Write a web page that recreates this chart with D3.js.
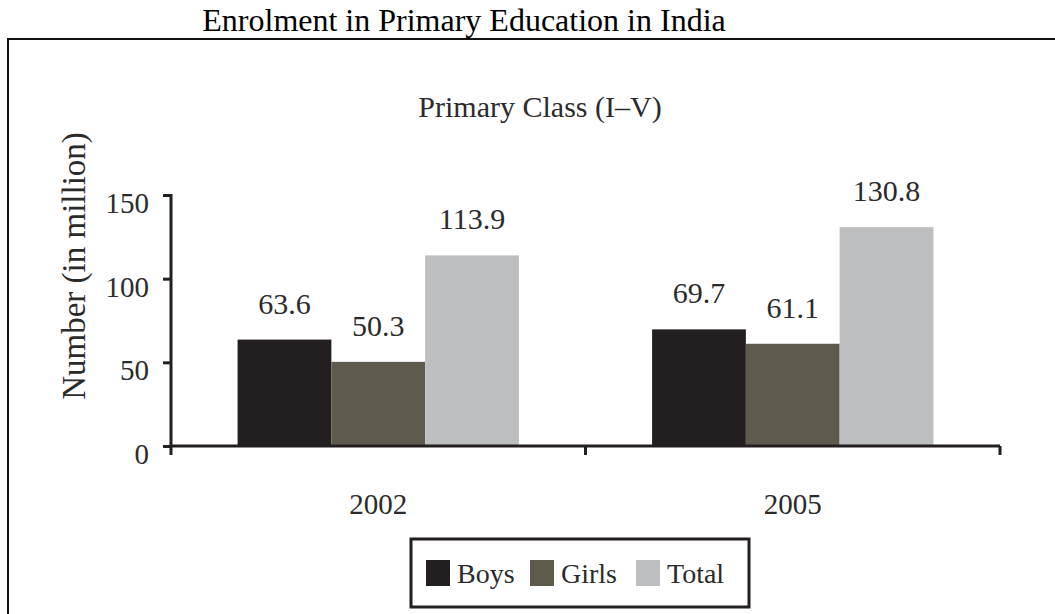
<!DOCTYPE html>
<html>
<head>
<meta charset="utf-8">
<script src="https://cdn.jsdelivr.net/npm/d3@7"></script>
<style>
  body { margin: 0; background: #fff; }
  svg text { font-family: "Liberation Serif", "Times New Roman", serif; }
</style>
</head>
<body>
<div id="chart"></div>
<script>
const width = 1055;
const height = 614;
const serif = "'Liberation Serif', 'Times New Roman', serif";

// data
const years = ["2002", "2005"];
const series = ["Boys", "Girls", "Total"];
const boys = [63.6, 69.7];
const girls = [50.3, 61.1];
const total = [113.9, 130.8];
const yTicks = [0, 50, 100, 150];
const colors = ["#231f20", "#5e5b4c", "#bcbec0"];

const rows = years.map((yr, i) => ({ year: yr, values: [boys[i], girls[i], total[i]] }));

const svg = d3.select("#chart").append("svg")
    .attr("width", width).attr("height", height);

// outer frame (left + top edges only visible)
svg.append("path")
    .attr("d", "M8,614 V39 H1055")
    .attr("fill", "none").attr("stroke", "#111").attr("stroke-width", 2);

svg.append("text")
    .attr("x", 464).attr("y", 31)
    .attr("text-anchor", "middle")
    .style("font-family", serif)
    .attr("font-size", 32).attr("fill", "#000")
    .text("Enrolment in Primary Education in India");

svg.append("text")
    .attr("x", 540).attr("y", 117)
    .attr("text-anchor", "middle")
    .style("font-family", serif)
    .attr("font-size", 30).attr("fill", "#2b2b2b")
    .text("Primary Class (I\u2013V)");

const plotLeft = 171, plotRight = 1000, plotTop = 195, plotBottom = 446;

const x = d3.scaleBand().domain(years).range([plotLeft, plotRight]).padding(0);
const x1 = d3.scaleBand().domain(series).range([0, x.bandwidth()])
    .paddingInner(0).paddingOuter(0.71);
const y = d3.scaleLinear().domain([0, 150]).range([plotBottom, plotTop]);

// bars
const groups = svg.append("g").selectAll("g")
    .data(rows).join("g")
    .attr("transform", d => `translate(${x(d.year)},0)`);

groups.selectAll("rect")
    .data(d => d.values.map((v, i) => ({ key: series[i], value: v, i })))
    .join("rect")
    .attr("x", d => x1(d.key))
    .attr("width", x1.bandwidth())
    .attr("y", d => y(d.value))
    .attr("height", d => y(0) - y(d.value))
    .attr("fill", d => colors[d.i]);

groups.selectAll("text.val")
    .data(d => d.values.map((v, i) => ({ key: series[i], value: v })))
    .join("text")
    .attr("class", "val")
    .attr("x", d => x1(d.key) + x1.bandwidth() / 2)
    .attr("y", d => y(d.value) - 26)
    .attr("text-anchor", "middle")
    .style("font-family", serif)
    .attr("font-size", 30).attr("fill", "#2b2b2b")
    .text(d => d.value.toFixed(1));

// y axis
const yAxis = svg.append("g")
    .attr("transform", `translate(${plotLeft},0)`)
    .call(d3.axisLeft(y).tickValues(yTicks).tickSize(8).tickPadding(14).tickFormat(d3.format("d")));
yAxis.select(".domain").remove();
yAxis.selectAll(".tick line").attr("stroke", "#231f20").attr("stroke-width", 3);
yAxis.selectAll(".tick text")
    .style("font-family", serif)
    .attr("font-size", 29).attr("fill", "#2b2b2b")
    .attr("dy", "0.6em");

svg.append("line")
    .attr("x1", plotLeft).attr("x2", plotLeft)
    .attr("y1", plotTop - 1).attr("y2", plotBottom + 9)
    .attr("stroke", "#231f20").attr("stroke-width", 3);

// x axis
svg.append("line")
    .attr("x1", plotLeft).attr("x2", plotRight)
    .attr("y1", plotBottom).attr("y2", plotBottom)
    .attr("stroke", "#231f20").attr("stroke-width", 3);

svg.append("g").selectAll("line")
    .data(years)
    .join("line")
    .attr("x1", d => x(d) + x.bandwidth()).attr("x2", d => x(d) + x.bandwidth())
    .attr("y1", plotBottom).attr("y2", plotBottom + 9)
    .attr("stroke", "#231f20").attr("stroke-width", 3);

svg.append("g").selectAll("text")
    .data(years)
    .join("text")
    .attr("x", d => x(d) + x.bandwidth() / 2)
    .attr("y", 514)
    .attr("text-anchor", "middle")
    .style("font-family", serif)
    .attr("font-size", 29).attr("fill", "#2b2b2b")
    .text(d => d);

// y label
svg.append("text")
    .attr("transform", "translate(85,266) rotate(-90)")
    .attr("text-anchor", "middle")
    .style("font-family", serif)
    .attr("font-size", 33).attr("fill", "#2b2b2b")
    .text("Number (in million)");

// legend
const legend = svg.append("g");
legend.append("rect")
    .attr("x", 411).attr("y", 539).attr("width", 338).attr("height", 68)
    .attr("fill", "#fff").attr("stroke", "#231f20").attr("stroke-width", 3);

const legendX = [426, 530, 636];
const items = legend.selectAll("g.item")
    .data(series).join("g")
    .attr("class", "item")
    .attr("transform", (d, i) => `translate(${legendX[i]},560)`);
items.append("rect")
    .attr("width", 24).attr("height", 26)
    .attr("fill", (d, i) => colors[i]);
items.append("text")
    .attr("x", 31).attr("y", 23)
    .style("font-family", serif)
    .attr("font-size", 28).attr("fill", "#2b2b2b")
    .text(d => d);
</script>
</body>
</html>
